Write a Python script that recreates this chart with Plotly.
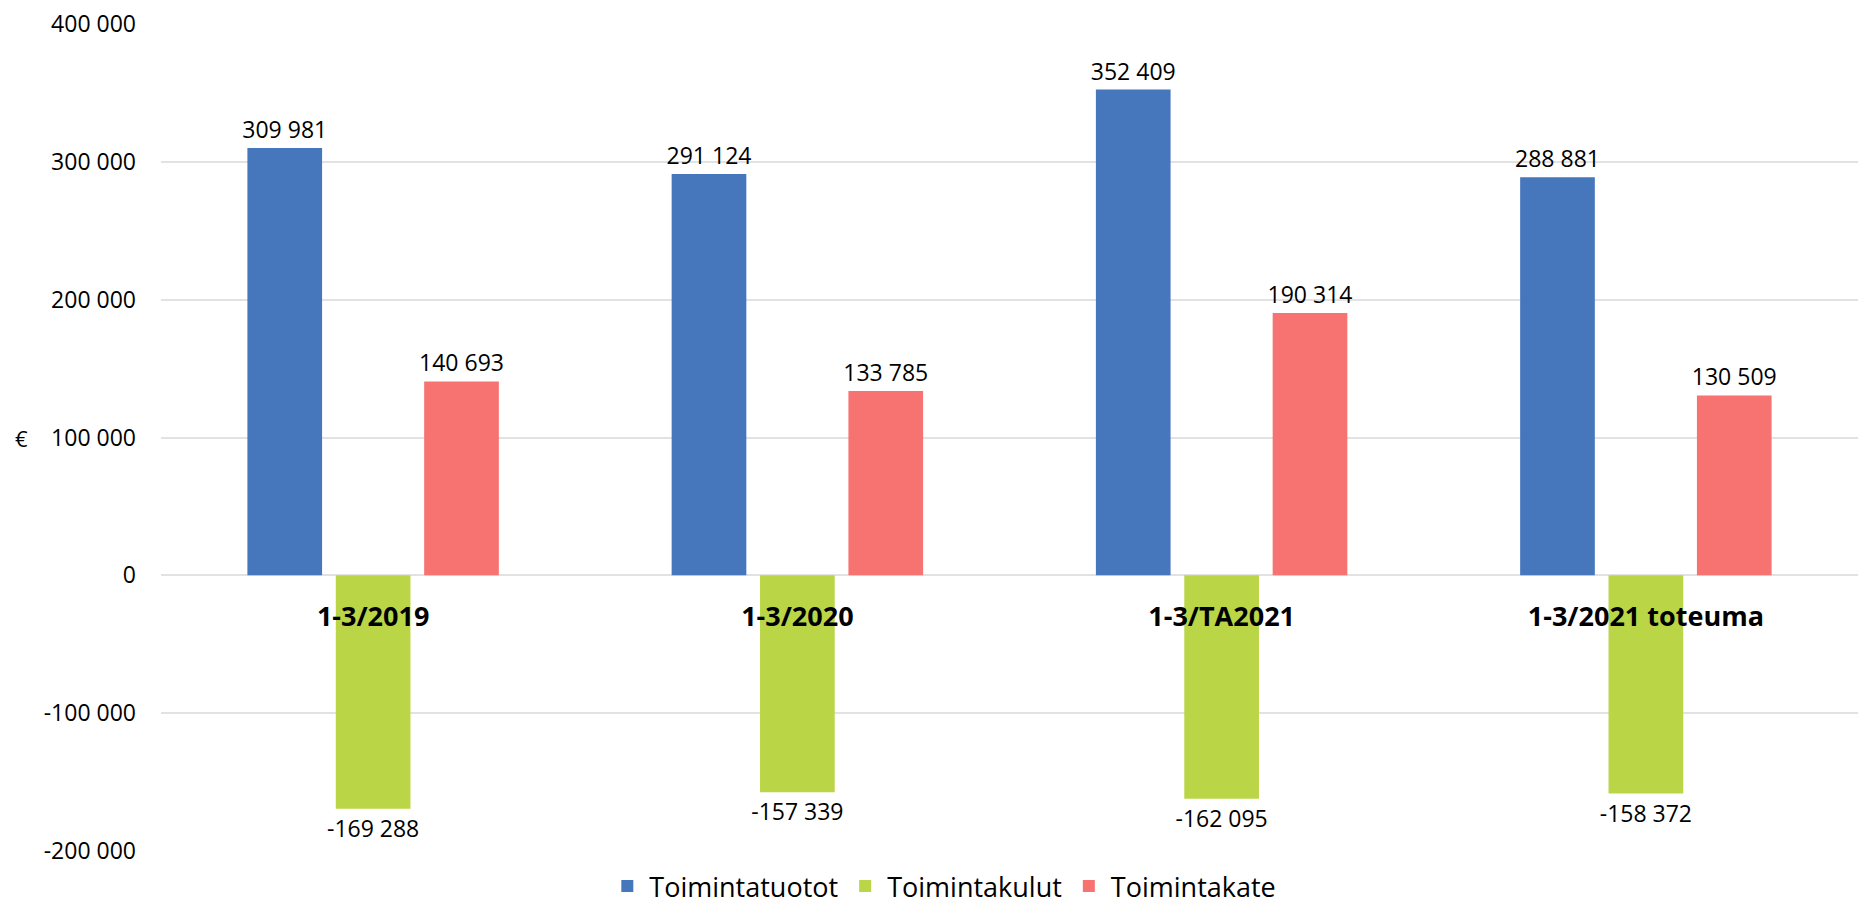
import plotly.graph_objects as go

categories = ["1-3/2019", "1-3/2020", "1-3/TA2021", "1-3/2021 toteuma"]
series_names = ["Toimintatuotot", "Toimintakulut", "Toimintakate"]
toimintatuotot = [309981, 291124, 352409, 288881]
toimintakulut = [-169288, -157339, -162095, -158372]
toimintakate = [140693, 133785, 190314, 130509]
colors = ["#4677BD", "#BAD647", "#F67371"]
tick_vals = [-200000, -100000, 0, 100000, 200000, 300000, 400000]
tick_text = ["-200 000", "-100 000", "0", "100 000", "200 000", "300 000", "400 000"]

FONT = "Open Sans"


def fmt(v):
    return f"{v:,}".replace(",", " ")


fig = go.Figure()
for name, vals, col in zip(series_names, [toimintatuotot, toimintakulut, toimintakate], colors):
    fig.add_trace(go.Bar(
        name=name, x=categories, y=vals,
        marker=dict(color=col, line=dict(width=0)),
        text=[fmt(v) for v in vals], textposition="outside",
        textfont=dict(family=FONT, size=23, color="#000000"),
        constraintext="none",
        cliponaxis=False,
    ))

fig.update_layout(
    width=1850, height=904,
    margin=dict(l=153, r=0, t=16, b=61, autoexpand=False),
    paper_bgcolor="white", plot_bgcolor="white",
    barmode="group", bargap=0.375, bargroupgap=0.155,
    font=dict(family=FONT, color="#000000"),
    showlegend=True,
    legend=dict(orientation="h", x=0.461, xanchor="center",
                y=-0.0725, yanchor="bottom",
                font=dict(family=FONT, size=27, color="#000000"), traceorder="normal",
                itemwidth=34),
    yaxis=dict(range=[-200000, 400000], tickvals=tick_vals, ticktext=tick_text,
               tickfont=dict(family=FONT, size=23, color="#000000"),
               showgrid=True, gridcolor="#E2E2E2", gridwidth=2,
               zeroline=True, zerolinecolor="#E2E2E2", zerolinewidth=2,
               showline=False, ticks="", ticklabelstandoff=24, fixedrange=True,
               automargin=False, ticklabeloverflow="allow"),
    xaxis=dict(anchor="free", position=1/3, showline=False, ticks="",
               tickfont=dict(family=FONT, size=27, color="#000000", weight="bold"),
               showgrid=False, zeroline=False, ticklabelstandoff=23, automargin=False,
               ticklabeloverflow="allow"),
    annotations=[dict(text="€", xref="paper", yref="paper", x=0, y=0.5, xshift=-140,
                      xanchor="center", yanchor="middle", showarrow=False,
                      font=dict(family=FONT, size=22, color="#000000"))],
)

fig.write_html("out.html")
